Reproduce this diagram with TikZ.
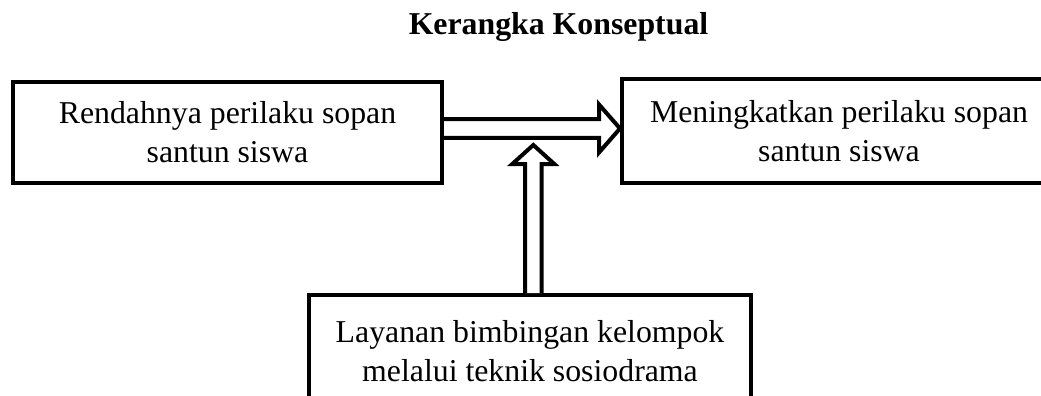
\documentclass[tikz,border=0pt]{standalone}
\usepackage{fontspec}
\setmainfont{Liberation Serif}
\usetikzlibrary{calc}
\tikzset{
  every picture/.style={line width=4pt},
  box/.style={draw=black, align=center, inner sep=6pt, font=\fontsize{31.8}{39}\selectfont},
  title/.style={font=\fontsize{31.8}{39}\selectfont\bfseries},
  blockarrow/.style={draw=black, fill=white, line width=4pt, line join=miter},
}

\begin{document}
\begin{tikzpicture}[x=1pt, y=-1pt]
  \useasboundingbox (0,0) rectangle (1041,396);
  \clip (0,0) rectangle (1041,396);
  % heading
  \node[title, anchor=base] (judul) at (558.5,35) {Kerangka Konseptual};
  % the three boxes
  \node[box, minimum width=429, minimum height=101] (rendah) at (227.5,132.5) {Rendahnya perilaku sopan\\santun siswa};
  \node[box, minimum width=434, minimum height=104] (tingkat) at (839,131) {Meningkatkan perilaku sopan\\santun siswa};
  \node[box, minimum width=442, minimum height=112] (layanan) at (530,351) {Layanan bimbingan kelompok\\melalui teknik sosiodrama};

  % hollow arrow from left box to right box
  \coordinate (h0) at ($(rendah.east)+(0,-4)$);
  \coordinate (h1) at (h0 -| tingkat.west);
  \draw[blockarrow] ($(h0)+(0,-9.3)$) -- ($(h1)+(-21,-9.3)$) -- ($(h1)+(-21,-24)$) -- (h1)
    -- ($(h1)+(-21,24)$) -- ($(h1)+(-21,9.3)$) -- ($(h0)+(0,9.3)$);

  % hollow arrow up from the bottom box
  \coordinate (v0) at ($(layanan.north)+(3.3,0)$);
  \coordinate (v1) at ($(v0 |- h0)+(0,16.5)$);
  \draw[blockarrow] ($(v0)+(-8.3,0)$) -- ($(v1)+(-8.3,19)$) -- ($(v1)+(-21,19)$) -- (v1)
    -- ($(v1)+(21,19)$) -- ($(v1)+(8.3,19)$) -- ($(v0)+(8.3,0)$);
\end{tikzpicture}
\end{document}
